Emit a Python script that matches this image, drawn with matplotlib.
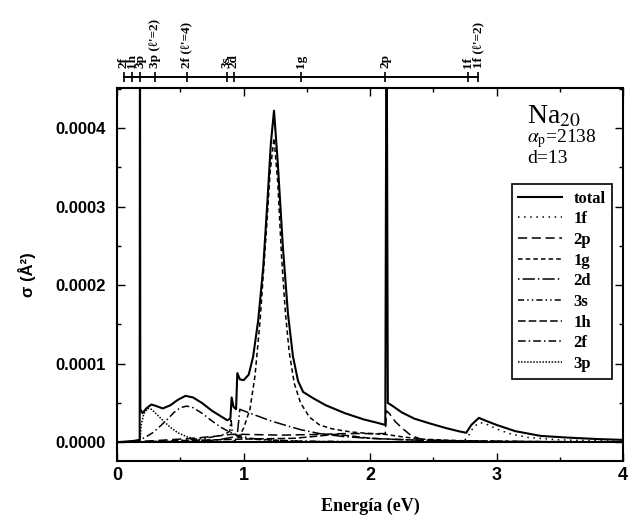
import matplotlib
matplotlib.use("Agg")
import matplotlib.pyplot as plt
import numpy as np
from matplotlib.ticker import MultipleLocator, FormatStrFormatter, NullFormatter

# valores em unidades de 1e-4 A^2
total_e = [0.00, 0.08, 0.15, 0.178, 0.180, 0.183, 0.20, 0.23, 0.27, 0.31, 0.36, 0.42, 0.48, 0.54, 0.60,
           0.67, 0.75, 0.82, 0.87, 0.895, 0.905, 0.92, 0.94, 0.95, 0.97, 1.00, 1.04, 1.075, 1.115, 1.155,
           1.19, 1.215, 1.24, 1.27, 1.31, 1.35, 1.39, 1.43, 1.47, 1.55, 1.65, 1.80, 1.95, 2.05, 2.12,
           2.13, 2.14, 2.17, 2.25, 2.35, 2.47, 2.60, 2.70, 2.76, 2.80, 2.86, 2.92, 3.00, 3.15, 3.35,
           3.55, 3.80, 4.00]
total_v = [0.00, 0.01, 0.02, 0.03, 6.0, 0.42, 0.37, 0.43, 0.48, 0.46, 0.43, 0.47, 0.54, 0.59, 0.57,
           0.50, 0.40, 0.33, 0.28, 0.30, 0.57, 0.45, 0.42, 0.88, 0.80, 0.79, 0.86, 1.09, 1.55, 2.23,
           3.12, 3.80, 4.22, 3.55, 2.49, 1.64, 1.09, 0.78, 0.64, 0.56, 0.47, 0.37, 0.29, 0.25, 0.22,
           6.0, 0.50, 0.47, 0.38, 0.30, 0.24, 0.18, 0.14, 0.12, 0.22, 0.31, 0.27, 0.22, 0.14, 0.08,
           0.06, 0.04, 0.03]

f1_e = [0.00, 2.00, 2.74, 2.78, 2.82, 2.87, 2.92, 3.00, 3.10, 3.25, 3.50, 4.00]
f1_v = [0.00, 0.00, 0.01, 0.09, 0.20, 0.25, 0.23, 0.17, 0.11, 0.06, 0.03, 0.01]

p2_e = [0.00, 0.30, 0.60, 0.80, 0.90, 1.00, 1.30, 1.60, 1.80, 2.00, 2.12, 2.13, 2.15, 2.20, 2.26,
        2.32, 2.40, 2.60, 3.00, 4.00]
p2_v = [0.00, 0.02, 0.05, 0.08, 0.10, 0.10, 0.09, 0.10, 0.11, 0.11, 0.11, 0.40, 0.37, 0.26, 0.17,
        0.09, 0.04, 0.01, 0.005, 0.00]

g1_e = [0.00, 0.90, 0.95, 1.00, 1.05, 1.09, 1.13, 1.18, 1.21, 1.24, 1.27, 1.30, 1.33, 1.36, 1.40,
        1.45, 1.52, 1.60, 1.70, 1.85, 2.00, 2.12, 2.25, 2.40, 2.70, 3.20, 4.00]
g1_v = [0.00, 0.00, 0.03, 0.18, 0.42, 0.85, 1.55, 2.70, 3.45, 3.87, 3.30, 2.35, 1.65, 1.15, 0.75,
        0.50, 0.32, 0.22, 0.17, 0.13, 0.11, 0.10, 0.07, 0.04, 0.02, 0.01, 0.00]

d2_e = [0.00, 0.50, 0.80, 0.93, 0.95, 0.97, 1.00, 1.10, 1.20, 1.30, 1.45, 1.60, 1.80, 2.00, 2.13,
        2.40, 2.80, 3.30, 4.00]
d2_v = [0.00, 0.00, 0.03, 0.07, 0.10, 0.42, 0.40, 0.34, 0.28, 0.23, 0.16, 0.11, 0.07, 0.05, 0.04,
        0.025, 0.015, 0.008, 0.005]

s3_e = [0.00, 0.40, 0.70, 0.85, 0.89, 0.90, 0.91, 0.93, 1.00, 1.15, 1.40, 2.00, 4.00]
s3_v = [0.00, 0.01, 0.05, 0.10, 0.14, 0.30, 0.12, 0.08, 0.05, 0.03, 0.015, 0.005, 0.00]

h1_e = [0.00, 0.12, 0.50, 1.00, 1.40, 1.60, 1.72, 1.85, 2.00, 2.30, 3.00, 4.00]
h1_v = [0.00, 0.00, 0.02, 0.04, 0.05, 0.08, 0.10, 0.08, 0.05, 0.03, 0.01, 0.00]

f2_e = [0.00, 0.10, 0.18, 0.23, 0.28, 0.33, 0.39, 0.45, 0.50, 0.55, 0.60, 0.67, 0.75, 0.82, 0.89,
        0.95, 1.05, 1.20, 1.50, 2.00, 4.00]
f2_v = [0.00, 0.01, 0.03, 0.07, 0.12, 0.19, 0.28, 0.38, 0.44, 0.46, 0.44, 0.37, 0.27, 0.19, 0.13,
        0.09, 0.05, 0.03, 0.01, 0.005, 0.00]

p3_e = [0.00, 0.18, 0.19, 0.21, 0.24, 0.27, 0.31, 0.36, 0.42, 0.48, 0.55, 0.65, 0.80, 1.00, 4.00]
p3_v = [0.00, 0.00, 0.22, 0.36, 0.43, 0.42, 0.36, 0.28, 0.19, 0.12, 0.07, 0.03, 0.01, 0.005, 0.00]

# eixo superior (niveis)
top_pos = [0.050, 0.116, 0.181, 0.300, 0.550, 0.865, 0.923, 1.454, 2.120, 2.772, 2.856]
top_lab = ["2f", "1h", "3p", "3p (ℓ'=2)", "2f (ℓ'=4)", "3s", "2d", "1g", "2p", "1f", "1f (ℓ'=2)"]

plt.rcParams["mathtext.fontset"] = "stix"
serif = ["Liberation Serif", "DejaVu Serif"]
sans = ["Liberation Sans", "DejaVu Sans"]

fig = plt.figure(figsize=(6.3, 5.2), dpi=100)
ax = fig.add_axes([0.186, 0.113, 0.803, 0.718])

series = [
    (total_e, total_v, "total", "-", 1.5),
    (f1_e, f1_v, "1f", (0, (1, 3)), 1.1),
    (p2_e, p2_v, "2p", (0, (6, 3)), 1.1),
    (g1_e, g1_v, "1g", (0, (3, 2)), 1.1),
    (d2_e, d2_v, "2d", (0, (1, 2, 8, 2)), 1.1),
    (s3_e, s3_v, "3s", (0, (4, 2, 1, 2, 1, 2)), 1.1),
    (h1_e, h1_v, "1h", (0, (5, 2)), 1.1),
    (f2_e, f2_v, "2f", (0, (5, 2, 1, 2)), 1.1),
    (p3_e, p3_v, "3p", (0, (1, 1)), 1.1),
]
for e, v, lab, ls, lw in series:
    ax.plot(e, np.array(v) * 1e-4, color="black", linestyle=ls, linewidth=lw, label=lab)

ax.axhline(0, color="black", linewidth=1.5)

ax.set_xlim(0, 4)
ax.set_ylim(-0.0000242, 0.000451)
ax.xaxis.set_major_locator(MultipleLocator(1))
ax.xaxis.set_minor_locator(MultipleLocator(0.5))
ax.yaxis.set_major_locator(MultipleLocator(0.0001))
ax.yaxis.set_minor_locator(MultipleLocator(0.00005))
ax.yaxis.set_major_formatter(FormatStrFormatter("%.4f"))
for s in ax.spines.values():
    s.set_linewidth(1.5)

for lbl in ax.get_xticklabels() + ax.get_yticklabels():
    lbl.set_family(sans)
    lbl.set_fontweight("bold")
ax.tick_params(axis="x", labelsize=13, pad=4)
ax.tick_params(axis="y", labelsize=12, pad=8)

ax.set_xlabel("Energía (eV)", family=serif, fontweight="bold", fontsize=13, labelpad=10)
ax.set_ylabel("σ (Å²)", family=sans, fontweight="bold", fontsize=12, labelpad=14)

# eixo de cima com os niveis: linha e marcas pelo twiny, textos a parte
ax2 = ax.twiny()
ax2.set_xlim(0, 4)
ax2.set_xticks(top_pos)
ax2.xaxis.set_major_formatter(NullFormatter())
for k in ["left", "right", "bottom"]:
    ax2.spines[k].set_visible(False)
ax2.spines["top"].set_position(("outward", 8))
ax2.spines["top"].set_bounds(top_pos[0], top_pos[-1])
ax2.spines["top"].set_linewidth(1.4)
ax2.tick_params(axis="x", direction="inout", length=7, width=1.2)
for xp, lab in zip(top_pos, top_lab):
    ax2.text(xp, 1.054, lab, transform=ax2.get_xaxis_transform(), rotation=90,
             ha="center", va="bottom", family=serif, fontweight="bold", fontsize=9.5)

ax.tick_params(which="both", direction="in", top=True, right=True, width=1)
ax.tick_params(which="major", length=6)
ax.tick_params(which="minor", length=3)

leg = ax.legend(loc="upper left", bbox_to_anchor=(0.78, 0.743), borderaxespad=0,
                prop={"family": serif, "weight": "bold", "size": 12},
                labelspacing=0.28, handlelength=2.6, handletextpad=0.7,
                fancybox=False, edgecolor="black", framealpha=1)
leg.get_frame().set_linewidth(1.2)

ax.text(0.81, 0.906, "Na$_{20}$", transform=ax.transAxes, family=serif, fontsize=20, va="baseline")
ax.text(0.81, 0.853, r"$\alpha_\mathrm{p}$=2138", transform=ax.transAxes, family=serif, fontsize=14,
        va="baseline")
ax.text(0.81, 0.799, "d=13", transform=ax.transAxes, family=serif, fontsize=14, va="baseline")

fig.savefig("out.png", dpi=100)
